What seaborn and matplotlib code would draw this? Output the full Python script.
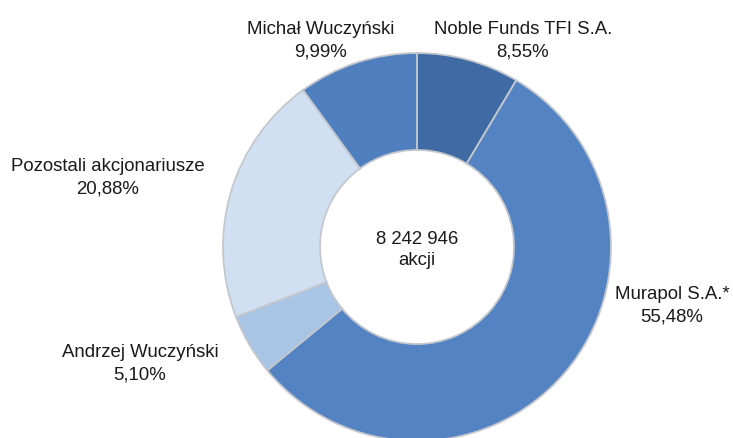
import matplotlib
matplotlib.use("Agg")
import matplotlib.pyplot as plt
import seaborn as sns

sns.set_theme(style="white")
plt.rcParams['font.family'] = ['Liberation Sans', 'DejaVu Sans']

names = ["Noble Funds TFI S.A.", "Murapol S.A.*", "Andrzej Wuczyński",
         "Pozostali akcjonariusze", "Michał Wuczyński"]
shares = [8.55, 55.48, 5.10, 20.88, 9.99]
share_labels = ["8,55%", "55,48%", "5,10%", "20,88%", "9,99%"]
colors = ["#3f6aa3", "#5383c2", "#a9c5e6", "#d0e0f2", "#4f7fbe"]
center_text = "8 242 946\nakcji"

W, H = 733, 439
fig = plt.figure(figsize=(W / 100, H / 100), dpi=100)
ax = fig.add_axes([0, 0, 1, 1])

cx, cy, R = 417, H - 248, 194
ax.pie(shares, colors=colors, startangle=90, counterclock=False,
       center=(cx, cy), radius=R, frame=True,
       wedgeprops=dict(width=R * 0.5, edgecolor="#c4c8ce", linewidth=1.3))
ax.set_xlim(0, W)
ax.set_ylim(0, H)
ax.set_aspect("equal")
ax.axis("off")

label_pos = {
    "Noble Funds TFI S.A.": (523, 41),
    "Murapol S.A.*": (672, 306),
    "Andrzej Wuczyński": (140, 364),
    "Pozostali akcjonariusze": (108, 178),
    "Michał Wuczyński": (321, 41),
}
for n, sl in zip(names, share_labels):
    x, y = label_pos[n]
    ax.text(x, H - y, f"{n}\n{sl}", ha="center", va="center",
            fontsize=13.4, color="#1a1a1a", linespacing=1.42)

ax.text(cx, H - 250, center_text, ha="center", va="center",
        fontsize=13.4, color="#1a1a1a", linespacing=1.38)

fig.savefig("out.png", dpi=100, facecolor="white")
